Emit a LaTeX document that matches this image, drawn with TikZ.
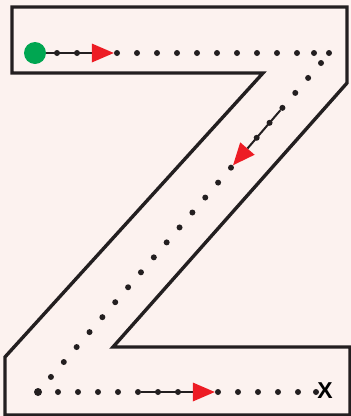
\documentclass[tikz,border=0pt]{standalone}
\usepackage{fontspec}
\setsansfont{Liberation Sans}
\usetikzlibrary{arrows.meta,positioning}
\definecolor{zbg}{RGB}{252,242,239}
\definecolor{zink}{RGB}{35,31,32}
\definecolor{zgreen}{RGB}{0,166,81}
\definecolor{zred}{RGB}{237,28,36}
\tikzset{
  zdot/.style={circle, fill=zink, inner sep=0pt, minimum size=6pt},
  zarr/.style={-{Triangle[length=22pt, width=19pt, color=zred, fill=zred, line width=0pt]}, line width=2pt, draw=zink},
  zwall/.style={draw=zink, line width=3.4pt, line join=miter},
}

\begin{document}
\begin{tikzpicture}[
  x=1pt, y=-1pt,
  startdot/.style={circle, fill=zgreen, inner sep=0pt, minimum size=22pt},
  goalmark/.style={font=\sffamily\bfseries\fontsize{23}{23}\selectfont, inner sep=0pt},
]
  \fill[zbg] (0,0) rectangle (351,416);
  \useasboundingbox (0,0) rectangle (351,416);
  \draw[zwall] (12,7) -- (347,7) -- (347,83) -- (113,347) -- (350,347) -- (350,415)
    -- (5,415) -- (5,357) -- (263,73) -- (12,73) -- cycle;
  \node[startdot] (start) at (35,53) {};
  \foreach \i in {0,...,12} \node[zdot] (t\i) at (57+20*\i,53) {};
  \node[zdot] (t13) at (314,53) {};
  \node[zdot] (t14) at (329,53) {};
  \foreach \i in {0,...,21} \node[zdot] (d\i) at (321-12.86*\i,63+14.95*\i) {};
  \node[zdot, minimum size=8pt] (corner) at (38,392) {};
  \foreach \i in {0,...,12} \node[zdot] (b\i) at (58+20*\i,392) {};
  \node[zdot] (b13) at (316,392) {};
  \node[goalmark] (goal) at (325,391) {X};
  \draw[zarr] (start) -- (t3);
  \draw[zarr] (d3) -- (d7);
  \draw[zarr] (b4) -- (b8);
\end{tikzpicture}
\end{document}
